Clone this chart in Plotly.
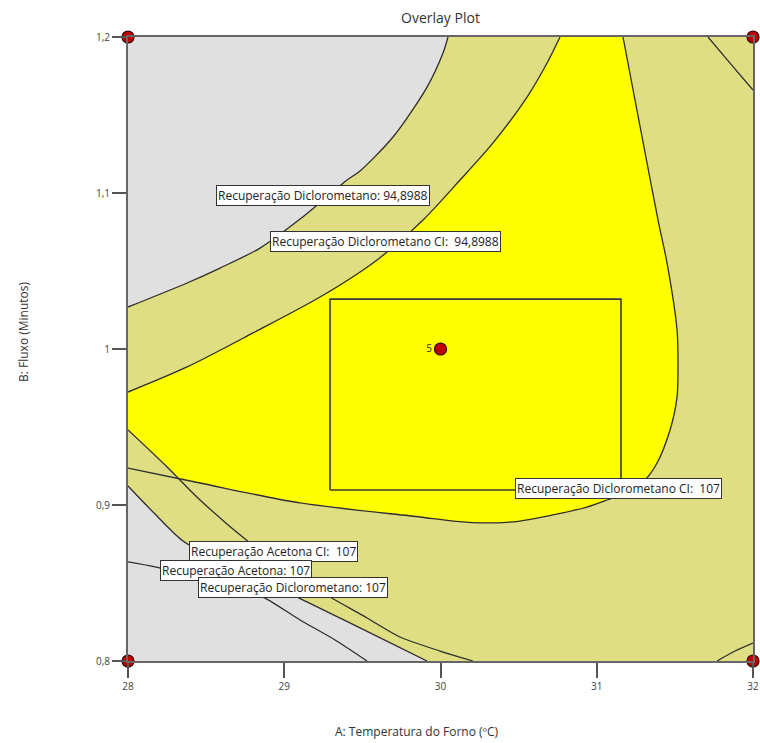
import plotly.graph_objects as go

# --- Factor ranges -------------------------------------------------------
x_range = [28, 32]          # A: Temperatura do Forno (ºC)
y_range = [0.8, 1.2]        # B: Fluxo (Minutos)

x_ticks = [28, 29, 30, 31, 32]
x_ticktext = ["28", "29", "30", "31", "32"]
y_ticks = [0.8, 0.9, 1.0, 1.1, 1.2]
y_ticktext = ["0,8", "0,9", "1", "1,1", "1,2"]

# --- Contour boundaries (A, B) -------------------------------------------
# Recuperação Diclorometano: 94,8988
dcm_low_x = [28.000, 28.378, 28.589, 28.845, 29.101, 29.402, 29.485, 29.696, 29.914, 30.016, 30.048]
dcm_low_y = [1.0269, 1.0423, 1.0519, 1.0647, 1.0833, 1.1083, 1.1141, 1.1359, 1.1679, 1.1897, 1.2000]

# Recuperação Diclorometano CI: 94,8988
dcm_ci_low_x = [28.000, 28.378, 28.800, 29.229, 29.594, 29.888, 30.125, 30.336, 30.554, 30.682, 30.765]
dcm_ci_low_y = [0.9724, 0.9885, 1.0103, 1.0333, 1.0571, 1.0827, 1.1083, 1.1321, 1.1615, 1.1833, 1.2000]

# Recuperação Diclorometano CI: 107
dcm_ci_high_x = [31.168, 31.245, 31.322, 31.392, 31.450, 31.514, 31.520, 31.514, 31.469, 31.386,
                 31.309, 31.213, 31.066, 30.938, 30.720, 30.509, 30.298, 30.080, 29.869, 29.101,
                 28.461, 28.000]
dcm_ci_high_y = [1.2000, 1.1596, 1.1192, 1.0827, 1.0551, 1.0122, 0.9910, 0.9692, 0.9481, 0.9269,
                 0.9160, 0.9090, 0.9032, 0.8987, 0.8936, 0.8897, 0.8885, 0.8897, 0.8923, 0.9013,
                 0.9141, 0.9237]

# Recuperação Acetona CI: 107
ace_ci_x = [28.000, 28.250, 28.461, 28.781, 29.037, 29.293, 29.530, 29.741, 29.997, 30.208]
ace_ci_y = [0.9481, 0.9244, 0.9032, 0.8756, 0.8571, 0.8410, 0.8276, 0.8154, 0.8064, 0.8000]

# Recuperação Diclorometano: 107
dcm_high_x = [28.000, 28.173, 28.352, 28.589, 28.845, 29.082, 29.485, 29.914]
dcm_high_y = [0.9122, 0.8942, 0.8769, 0.8641, 0.8519, 0.8410, 0.8212, 0.8000]

# Recuperação Acetona: 107
ace_x = [28.000, 28.173, 28.461, 28.685, 28.864, 29.101, 29.325, 29.530]
ace_y = [0.8635, 0.8603, 0.8532, 0.8468, 0.8410, 0.8263, 0.8135, 0.8000]

# Other contour segments near the right-hand corners
corner_top_x = [31.712, 31.853, 32.000]
corner_top_y = [1.2000, 1.1833, 1.1660]
corner_bot_x = [31.770, 31.885, 32.000]
corner_bot_y = [0.8000, 0.8064, 0.8115]

# Flag box
flag_x = [29.293, 31.155]
flag_y = [0.9096, 1.032]

# Design points
design_x = [28, 28, 32, 32, 30]
design_y = [0.8, 1.2, 0.8, 1.2, 1.0]
design_text = ["", "", "", "", "5"]

# Contour labels
label_text = [
    "Recuperação Diclorometano: 94,8988",
    "Recuperação Diclorometano CI:  94,8988",
    "Recuperação Diclorometano CI:  107",
    "Recuperação Acetona CI:  107",
    "Recuperação Acetona: 107",
    "Recuperação Diclorometano: 107",
]
label_x = [29.248, 29.651, 31.136, 28.931, 28.694, 29.056]
label_y = [1.0981, 1.0686, 0.9103, 0.8702, 0.8583, 0.8474]

# --- Styling ---------------------------------------------------------------
GRAY = "#E0E0E0"
KHAKI = "#E0DE83"
YELLOW = "#FFFF00"
LINE = "#2E2E2E"
FONT = "Open Sans"

W, H = 760, 743
plot_l, plot_r, plot_t, plot_b = 128, 753, 37, 661

fig = go.Figure()

# Sweet spot: below the lower CI contour and inside the upper CI contour
fig.add_trace(go.Scatter(
    x=dcm_ci_low_x + dcm_ci_high_x, y=dcm_ci_low_y + dcm_ci_high_y,
    mode="lines", fill="toself", fillcolor=YELLOW, line=dict(width=0),
    hoverinfo="skip", showlegend=False))

# Region failing the Acetona CI criterion
fig.add_trace(go.Scatter(
    x=ace_ci_x + [x_range[0]], y=ace_ci_y + [y_range[0]],
    mode="lines", fill="toself", fillcolor=KHAKI, line=dict(width=0),
    hoverinfo="skip", showlegend=False))

# Infeasible areas
fig.add_trace(go.Scatter(
    x=dcm_high_x + [x_range[0]], y=dcm_high_y + [y_range[0]],
    mode="lines", fill="toself", fillcolor=GRAY, line=dict(width=0),
    hoverinfo="skip", showlegend=False))
fig.add_trace(go.Scatter(
    x=dcm_low_x + [x_range[0]], y=dcm_low_y + [y_range[1]],
    mode="lines", fill="toself", fillcolor=GRAY, line=dict(width=0),
    hoverinfo="skip", showlegend=False))

# Contour lines
for cx, cy in [(dcm_low_x, dcm_low_y), (dcm_ci_low_x, dcm_ci_low_y),
               (dcm_ci_high_x, dcm_ci_high_y), (ace_ci_x, ace_ci_y),
               (dcm_high_x, dcm_high_y), (ace_x, ace_y),
               (corner_top_x, corner_top_y), (corner_bot_x, corner_bot_y)]:
    fig.add_trace(go.Scatter(
        x=cx, y=cy, mode="lines",
        line=dict(color=LINE, width=1.3, shape="spline", smoothing=0.8),
        hoverinfo="skip", showlegend=False))

# Flag box
fig.add_trace(go.Scatter(
    x=[flag_x[0], flag_x[1], flag_x[1], flag_x[0], flag_x[0]],
    y=[flag_y[0], flag_y[0], flag_y[1], flag_y[1], flag_y[0]],
    mode="lines", line=dict(color="#3A3A3A", width=1.6),
    hoverinfo="skip", showlegend=False))

# Design points
fig.add_trace(go.Scatter(
    x=design_x, y=design_y, mode="markers+text", text=design_text,
    textposition="middle left", textfont=dict(family=FONT, size=10, color="#333"),
    marker=dict(size=12, color="#C00000", line=dict(color="#3A0000", width=1.2)),
    cliponaxis=False, hoverinfo="skip", showlegend=False))

annotations = []
for t, ax_, ay_ in zip(label_text, label_x, label_y):
    annotations.append(dict(
        x=ax_, y=ay_, xref="x", yref="y", text=t, showarrow=False,
        font=dict(family=FONT, size=12, color="#222"),
        bgcolor="white", bordercolor="#333", borderwidth=1, borderpad=1))


def to_paper(px, py):
    """Pixel position in the page -> paper fractions of the plot area."""
    return ((px - plot_l) / (plot_r - plot_l), (plot_b - py) / (plot_b - plot_t))


# Axis titles
tx, ty = to_paper(417, 731)
annotations.append(dict(
    text="A: Temperatura do Forno (ºC)", x=tx, y=ty, xref="paper", yref="paper",
    xanchor="center", yanchor="middle",
    showarrow=False, font=dict(family=FONT, size=12, color="#333")))
tx, ty = to_paper(23, 332)
annotations.append(dict(
    text="B: Fluxo (Minutos)", x=tx, y=ty, xref="paper", yref="paper",
    xanchor="center", yanchor="middle",
    showarrow=False, textangle=-90, font=dict(family=FONT, size=12, color="#333")))

fig.update_layout(
    width=W, height=H,
    margin=dict(l=plot_l, r=W - plot_r, t=plot_t, b=H - plot_b),
    paper_bgcolor="white", plot_bgcolor=KHAKI,
    title=dict(text="Overlay Plot", x=0.5, xref="paper", y=1 - 18 / H,
               yanchor="middle", font=dict(family=FONT, size=14, color="#333")),
    annotations=annotations,
    font=dict(family=FONT, color="#333"),
    xaxis=dict(range=x_range, tickvals=x_ticks, ticktext=x_ticktext, automargin=False,
               showgrid=False, zeroline=False, showline=True, mirror=True,
               linecolor="#666", linewidth=2, ticks="outside", ticklen=15,
               tickcolor="#555", tickwidth=2, tickfont=dict(size=10, color="#444")),
    yaxis=dict(range=y_range, tickvals=y_ticks, ticktext=y_ticktext, automargin=False,
               showgrid=False, zeroline=False, showline=True, mirror=True,
               linecolor="#666", linewidth=2, ticks="outside", ticklen=14,
               tickcolor="#555", tickwidth=2, tickfont=dict(size=10, color="#444")),
)

fig.write_html("out.html")
